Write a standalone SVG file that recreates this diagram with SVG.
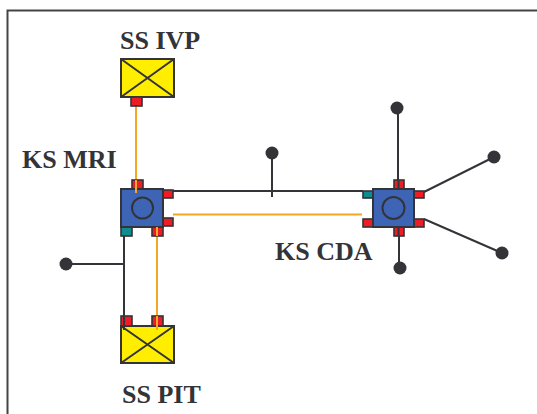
<svg xmlns="http://www.w3.org/2000/svg" width="537" height="414" viewBox="0 0 537 414">
<style>
.lbl{font-family:"Liberation Serif","Times New Roman",serif;font-weight:bold;font-size:26px;fill:#333338}
.blk{stroke:#333338;stroke-width:2;fill:none}
.org{stroke:#F5A623;stroke-width:2;fill:none}
.ss{fill:#FFEE00;stroke:#333338;stroke-width:2}
.ks{fill:#3E65B5;stroke:#333338;stroke-width:2}
.rp{fill:#EE1C24;stroke:#333338;stroke-width:1.6}
.tp{fill:#0F8C8F;stroke:#333338;stroke-width:1.6}
.dot{fill:#333338}
</style>
<rect width="537" height="414" fill="#fff"/>
<path d="M7.5 414 V10.5 H537" stroke="#444" stroke-width="2" fill="none"/>
<g id="connectors">
<path class="org" d="M136 106 V190"/>
<path class="blk" d="M173 191 H363"/>
<path class="blk" d="M272 153 V197"/>
<path class="org" d="M173 214.5 H362"/>
<path class="blk" d="M124 236 V330"/>
<path class="blk" d="M66 264 H124"/>
<path class="org" d="M157 236 V330"/>
<path class="blk" d="M398 108 V236 M399 236 V268"/>
<path class="blk" d="M424 192 L494 157"/>
<path class="blk" d="M424 219 L502 253"/>
<circle class="dot" cx="272" cy="153" r="6.5"/>
<circle class="dot" cx="66" cy="264" r="6.5"/>
<circle class="dot" cx="397" cy="108" r="6.5"/>
<circle class="dot" cx="400" cy="268" r="6.5"/>
<circle class="dot" cx="494" cy="157" r="6.5"/>
<circle class="dot" cx="502" cy="253" r="6.5"/>
</g>
<g id="ss-ivp">
<rect class="ss" x="121" y="59" width="53" height="38"/>
<path class="blk" d="M121 59 L174 97 M174 59 L121 97"/>
<rect class="rp" x="131" y="97" width="11" height="9"/>
<text class="lbl" x="120" y="49">SS IVP</text>
</g>
<g id="ks-mri">
<rect class="rp" x="132" y="180" width="11" height="9"/>
<rect class="rp" x="163" y="190" width="10" height="8"/>
<rect class="rp" x="163" y="218" width="10" height="8"/>
<rect class="tp" x="121" y="227" width="11" height="9"/>
<rect class="rp" x="152" y="227" width="11" height="9"/>
<rect class="ks" x="121" y="189" width="42" height="38"/>
<circle cx="142.5" cy="208" r="10.5" fill="none" stroke="#333338" stroke-width="2"/>
<path class="org" d="M136 180 V193 M157 227 V236"/>
<text class="lbl" x="22" y="168">KS MRI</text>
</g>
<g id="ks-cda">
<rect class="rp" x="394" y="180" width="10" height="9"/>
<rect class="rp" x="394" y="227" width="10" height="9"/>
<rect class="tp" x="363" y="191" width="10" height="7"/>
<rect class="rp" x="363" y="219" width="10" height="8"/>
<rect class="rp" x="414" y="191" width="10" height="7"/>
<rect class="rp" x="414" y="219" width="10" height="8"/>
<path class="blk" d="M398.5 180 V189 M398.5 227 V236" stroke-width="1.5"/>
<rect class="ks" x="373" y="189" width="41" height="38"/>
<circle cx="393.5" cy="208" r="11" fill="none" stroke="#333338" stroke-width="2"/>
<text class="lbl" x="275" y="260">KS CDA</text>
</g>
<g id="ss-pit">
<rect class="ss" x="121" y="326" width="53" height="37"/>
<path class="blk" d="M121 326 L174 363 M174 326 L121 363"/>
<rect class="rp" x="121" y="316" width="11" height="10"/>
<rect class="rp" x="152" y="316" width="11" height="10"/>
<path class="blk" d="M124 316 V330"/>
<path class="org" d="M157 316 V330"/>
<text class="lbl" x="122" y="403">SS PIT</text>
</g>
</svg>
